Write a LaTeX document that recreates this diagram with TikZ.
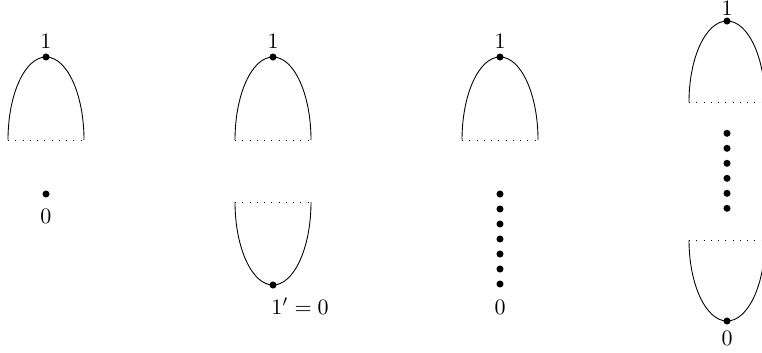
\documentclass[tikz,border=0pt]{standalone}
\begin{document}
\begin{tikzpicture}[x=0.4545pt,y=0.4545pt,
  dot/.style={circle,fill,inner sep=0pt,minimum size=3.2pt},
  rim/.style={line cap=butt,dash pattern=on 0.45pt off 2.85pt},
  lbl/.style={inner sep=0pt}]
\useasboundingbox (0,0) rectangle (762,352);
% ---- diagram 1
\coordinate (a1l) at (8,212); \coordinate (a1r) at (84,212);
\draw (a1l) arc[start angle=180,end angle=0,x radius=17.27pt,y radius=37.72pt];
\draw[rim] (a1l) -- (a1r);
\node[dot] (t1) at (46,295) {};
\node[lbl] (l1) at (46,311) {$1$};
\node[dot] (z1) at (46,158) {};
\node[lbl] (m1) at (46,136) {$0$};
% ---- diagram 2
\coordinate (a2l) at (235,212); \coordinate (a2r) at (311,212);
\draw (a2l) arc[start angle=180,end angle=0,x radius=17.27pt,y radius=37.72pt];
\draw[rim] (a2l) -- (a2r);
\node[dot] (t2) at (273,295) {};
\node[lbl] (l2) at (273,311) {$1$};
\coordinate (b2l) at (235,150); \coordinate (b2r) at (311,150);
\draw (b2l) arc[start angle=180,end angle=360,x radius=17.27pt,y radius=37.72pt];
\draw[rim] (b2l) -- (b2r);
\node[dot] (z2) at (273,67) {};
\node[lbl] (m2) at (300,46) {$1'=0$};
% ---- diagram 3
\coordinate (a3l) at (462,212); \coordinate (a3r) at (538,212);
\draw (a3l) arc[start angle=180,end angle=0,x radius=17.27pt,y radius=37.72pt];
\draw[rim] (a3l) -- (a3r);
\node[dot] (t3) at (500,295) {};
\node[lbl] (l3) at (500,311) {$1$};
\foreach \k in {0,...,6} {\node[dot] (c3\k) at (500,158-15*\k) {};}
\node[lbl] (m3) at (500,45) {$0$};
% ---- diagram 4
\coordinate (a4l) at (689,250); \coordinate (a4r) at (765,250);
\draw (a4l) arc[start angle=180,end angle=0,x radius=17.27pt,y radius=36.81pt];
\draw[rim] (a4l) -- (a4r);
\node[dot] (t4) at (727,331) {};
\node[lbl] (l4) at (727,344) {$1$};
\foreach \k in {0,...,5} {\node[dot] (c4\k) at (727,218.7-15*\k) {};}
\coordinate (b4l) at (689,112); \coordinate (b4r) at (765,112);
\draw (b4l) arc[start angle=180,end angle=360,x radius=17.27pt,y radius=36.81pt];
\draw[rim] (b4l) -- (b4r);
\node[dot] (z4) at (727,31) {};
\node[lbl] (m4) at (727,14) {$0$};
\end{tikzpicture}
\end{document}
